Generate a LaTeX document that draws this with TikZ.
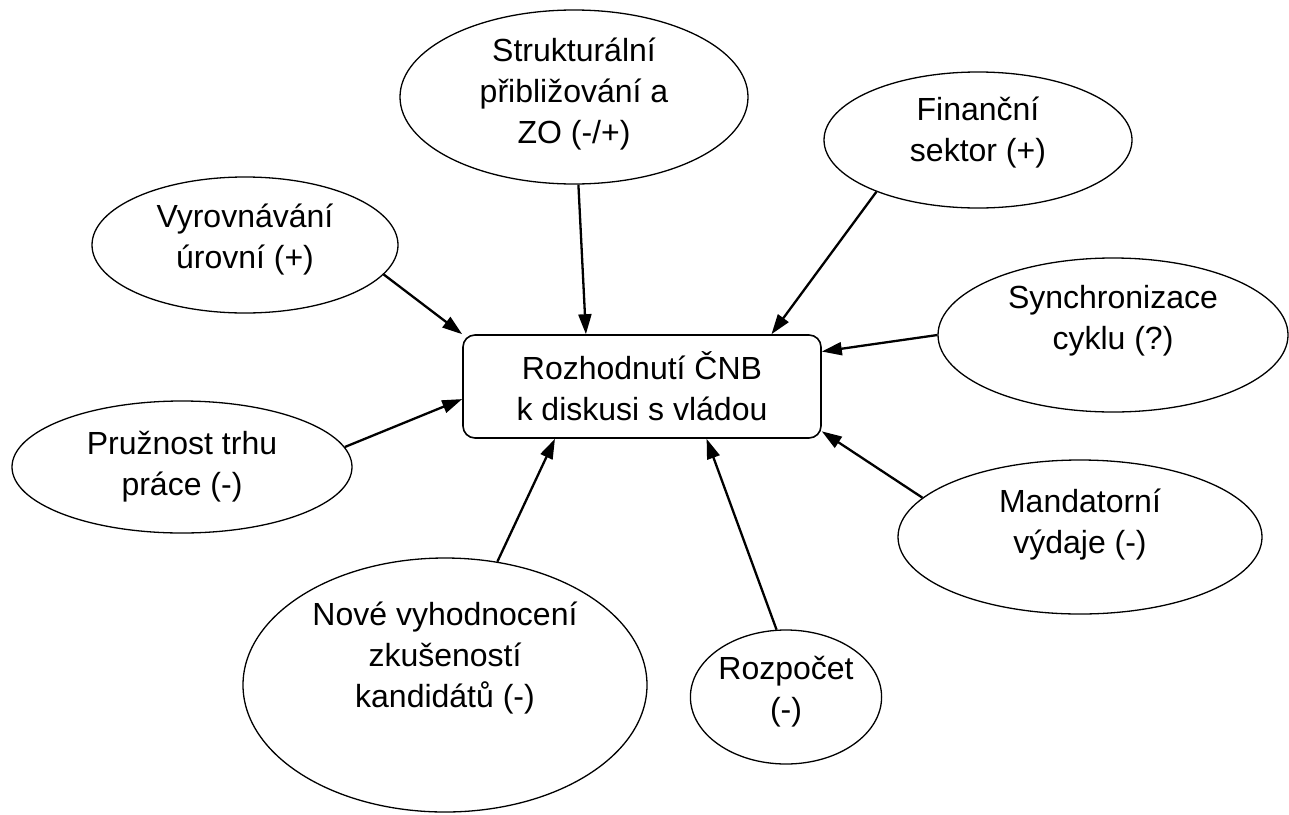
\documentclass[tikz,border=0pt]{standalone}
\usepackage{fontspec}
\setmainfont{Liberation Sans}
\usepackage{tikz}
\usetikzlibrary{positioning,shapes.geometric,arrows.meta}
\newcommand{\dropby}[1]{\rule[-#1pt]{0pt}{0pt}}
\tikzset{%
  factor/.style={
    ellipse,
    draw,
    line width=1.3pt,
    inner sep=0pt,
    align=center,
    font=\fontsize{32}{41}\selectfont
  },
  decision/.style={
    rectangle,
    draw,
    rounded corners=12pt,
    line width=1.6pt,
    minimum width=358pt,
    minimum height=103pt,
    align=center,
    font=\fontsize{32}{41}\selectfont
  },
  influence/.style={
    ->,
    line width=2.3pt
  },
}

\begin{document}
\begin{tikzpicture}[> = {Triangle[length=20pt,width=13pt]}, x=1pt, y=-1pt]
\useasboundingbox (0,0) rectangle (1289,814);

\node[decision] (cnb) at (642,386.5) {Rozhodnutí ČNB\\k diskusi s vládou};

\node[factor, minimum width=348pt, minimum height=174pt] (struk) at (574,97) {Strukturální\\přibližování a\\ZO (-/+)\dropby{13}};
\node[factor, minimum width=308pt, minimum height=136pt] (fin) at (978,140) {Finanční\\sektor (+)\dropby{21}};
\node[factor, minimum width=306pt, minimum height=136pt] (vyr) at (245,245) {Vyrovnávání\\úrovní (+)\dropby{17}};
\node[factor, minimum width=350pt, minimum height=154pt] (sync) at (1113,335) {Synchronizace\\cyklu (?)\dropby{35}};
\node[factor, minimum width=340pt, minimum height=132pt] (pruz) at (182,467) {Pružnost trhu\\práce (-)};
\node[factor, minimum width=364pt, minimum height=154pt] (mand) at (1080,537) {Mandatorní\\výdaje (-)\dropby{31}};
\node[factor, minimum width=404pt, minimum height=254pt] (nove) at (445,685) {Nové vyhodnocení\\zkušeností\\kandidátů (-)\dropby{61}};
\node[factor, minimum width=182pt, minimum height=134pt] (rozp) at (786,697) {Rozpočet\\(-)\dropby{17}};

\draw[influence] (struk) -- (cnb.137);
\draw[influence] (fin.207) -- (cnb.22);
\draw[influence] (vyr.-12) -- (cnb.north west);
\draw[influence] (sync.west) -- (cnb.11);
\draw[influence] (pruz.7) -- (cnb.184);
\draw[influence] (mand.166) -- (cnb.-14);
\draw[influence] (nove.67) -- (cnb.211);
\draw[influence] (rozp.98) -- (cnb.-39);
\end{tikzpicture}
\end{document}
